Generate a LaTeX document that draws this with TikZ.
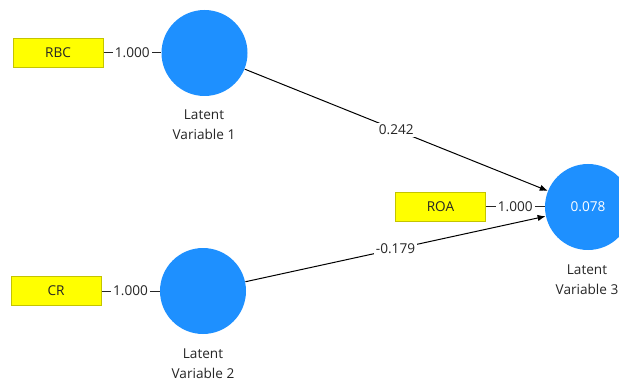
\documentclass[tikz,border=0pt]{standalone}
\usepackage{fontspec}
\setmainfont{Open Sans}
\usetikzlibrary{arrows.meta,positioning}
\definecolor{plsLV}{HTML}{1E90FF}
\definecolor{plsInd}{HTML}{FFFF00}
\definecolor{plsIndEdge}{HTML}{C4C400}
\definecolor{plsText}{HTML}{262626}
\newcommand{\plsfont}{\fontsize{6.8}{10}\selectfont}
\tikzset{
  plslv/.style={circle,fill=plsLV,minimum size=43pt,inner sep=0pt,text=white,font=\plsfont},
  plsind/.style={draw=plsIndEdge,line width=0.5pt,fill=plsInd,minimum width=45pt,
                 minimum height=14.5pt,inner sep=0pt,text=plsText,font=\plsfont},
  plsname/.style={align=center,text=plsText,font=\plsfont,inner sep=0pt},
  plsload/.style={draw=plsText,line width=0.5pt},
  plspath/.style={-{Latex[length=4pt,width=3.2pt]},draw=black,line width=0.5pt},
  plscoef/.style={fill=white,inner sep=1pt,text=plsText,font=\plsfont},
}
\begin{document}
\begin{tikzpicture}[x=0.5pt,y=-0.5pt]
  \useasboundingbox (0,0) rectangle (619,384);
  \clip (0,0) rectangle (619,384);
  \node[plslv] (LV1) at (204.5,53) {};
  \node[plslv] (LV2) at (203,291)  {};
  \node[plslv] (LV3) at (588,207)  {0.078};
  \node[plsind] (RBC) at (58,53)    {RBC};
  \node[plsind] (CR)  at (56,291)   {CR};
  \node[plsind] (ROA) at (440.5,207) {ROA};
  \node[plsname] (N1) at (204,125) {Latent\\Variable 1};
  \node[plsname] (N2) at (203,364) {Latent\\Variable 2};
  \node[plsname] (N3) at (587,280) {Latent\\Variable 3};

  \foreach \a/\b in {RBC/LV1,CR/LV2,ROA/LV3}{\draw[plsload] (\a)--node[plscoef]{1.000}(\b);}
  \draw[plspath] (LV1)--node[plscoef]{0.242}(LV3);
  \draw[plspath] (LV2)--node[plscoef]{-0.179}(LV3);
\end{tikzpicture}
\end{document}
